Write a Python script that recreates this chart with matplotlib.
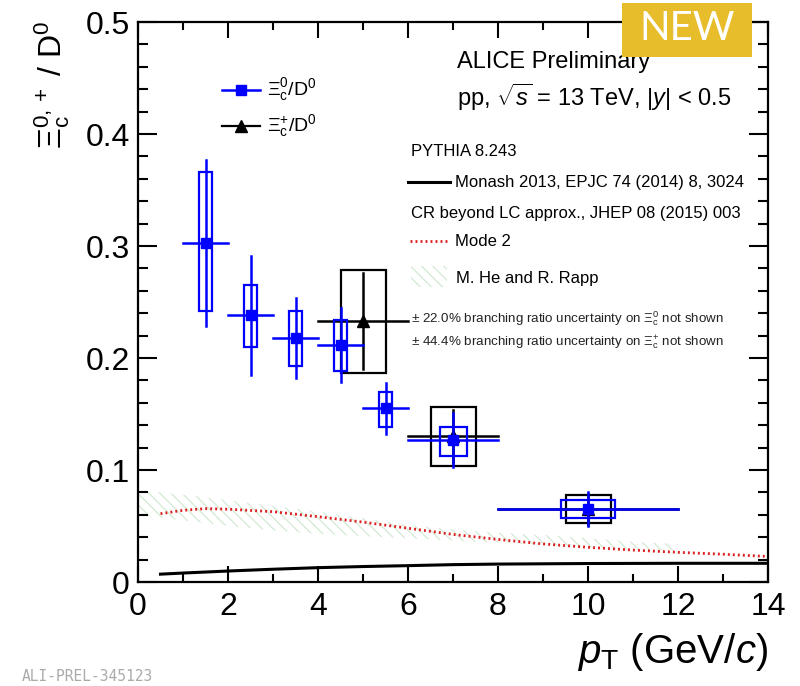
import matplotlib
matplotlib.use("Agg")
import matplotlib.pyplot as plt
from matplotlib.patches import Rectangle
from matplotlib.lines import Line2D
import numpy as np

plt.rcParams['font.family'] = ['Liberation Sans', 'DejaVu Sans']
plt.rcParams['mathtext.fontset'] = 'custom'
plt.rcParams['mathtext.rm'] = 'Liberation Sans'
plt.rcParams['mathtext.it'] = 'Liberation Sans:italic'
plt.rcParams['mathtext.bf'] = 'Liberation Sans:bold'
plt.rcParams['hatch.linewidth'] = 0.9

# ---- Xi_c^0 / D^0 ----
xi0_pt = [1.5, 2.5, 3.5, 4.5, 5.5, 7.0, 10.0]
xi0_lo = [1, 2, 3, 4, 5, 6, 8]
xi0_hi = [2, 3, 4, 5, 6, 8, 12]
xi0_val = [0.303, 0.238, 0.218, 0.212, 0.155, 0.127, 0.065]
xi0_stat = [0.074, 0.053, 0.036, 0.033, 0.023, 0.024, 0.015]
xi0_syst_dn = [0.061, 0.028, 0.025, 0.024, 0.017, 0.0145, 0.008]
xi0_syst_up = [0.063, 0.027, 0.024, 0.022, 0.015, 0.0115, 0.008]

# ---- Xi_c^+ / D^0 ----
xip_pt = [5.0, 7.0, 10.0]
xip_lo = [4, 6, 8]
xip_hi = [6, 8, 12]
xip_val = [0.233, 0.130, 0.065]
xip_stat = [0.043, 0.024, 0.014]
xip_syst = [0.046, 0.026, 0.0125]

# ---- PYTHIA 8 Monash ----
mon_pt = [0.5, 1, 2, 3, 4, 5, 6, 7, 8, 10, 12, 14]
mon_val = [0.007, 0.008, 0.0098, 0.0114, 0.0128, 0.0138, 0.0146, 0.0155,
           0.016, 0.0165, 0.0167, 0.0167]

# ---- PYTHIA 8 CR Mode 2 ----
mode2_pt = [0.5, 1, 1.5, 2, 3, 4, 5, 6, 7, 8, 9, 10, 11, 12, 13, 14]
mode2_val = [0.061, 0.064, 0.0655, 0.065, 0.0628, 0.0583, 0.0535, 0.048,
             0.0425, 0.038, 0.034, 0.031, 0.0285, 0.0265, 0.0248, 0.0228]

# ---- M. He and R. Rapp band ----
hr_pt = [0, 1, 2, 3, 4, 5, 6, 7, 8, 9, 10, 11, 12]
hr_up = [0.082, 0.078, 0.073, 0.068, 0.063, 0.057, 0.051, 0.047, 0.044,
         0.042, 0.039, 0.036, 0.034]
hr_dn = [0.060, 0.055, 0.050, 0.046, 0.043, 0.041, 0.039, 0.037, 0.035,
         0.033, 0.031, 0.029, 0.028]

x_ticks = [0, 2, 4, 6, 8, 10, 12, 14]
y_ticks = [0, 0.1, 0.2, 0.3, 0.4, 0.5]
y_ticklabels = ['0', '0.1', '0.2', '0.3', '0.4', '0.5']

W, H = 800, 686
fig = plt.figure(figsize=(W / 100, H / 100), dpi=100)


def fx(px):
    return px / W


def fy(py):
    return 1 - py / H


ax = fig.add_axes([fx(138), fy(582), fx(768) - fx(138), fy(22) - fy(582)])
ax.set_xlim(0, 14)
ax.set_ylim(0, 0.5)

BLUE = '#0000ff'
RED = '#dd2020'
GREEN = '#d3e9d3'

# theory curves
ax.fill_between(hr_pt, hr_dn, hr_up, facecolor='none', edgecolor=GREEN,
                hatch='\\\\\\', linewidth=0, zorder=1)
ax.plot(mon_pt, mon_val, color='black', lw=2.2, zorder=2)
ax.plot(mode2_pt, mode2_val, color=RED, lw=2.0, ls=(0, (0.7, 1.1)), zorder=2)

# Xi_c^+ (black) drawn first, Xi_c^0 (blue) on top
for pt, lo, hi, v, st, sy in zip(xip_pt, xip_lo, xip_hi, xip_val, xip_stat, xip_syst):
    ax.add_patch(Rectangle((pt - 0.5, v - sy), 1.0, 2 * sy, fill=False,
                           edgecolor='black', lw=1.6, zorder=3))
    ax.plot([lo, hi], [v, v], color='black', lw=1.8, zorder=3)
    ax.plot([pt, pt], [v - st, v + st], color='black', lw=1.8, zorder=3)
ax.plot(xip_pt, xip_val, ls='none', marker='^', ms=9, color='black', zorder=4)

for pt, lo, hi, v, st, dn, up in zip(xi0_pt, xi0_lo, xi0_hi, xi0_val, xi0_stat,
                                     xi0_syst_dn, xi0_syst_up):
    hw = 0.15 * (hi - lo)
    ax.add_patch(Rectangle((pt - hw, v - dn), 2 * hw, dn + up, fill=False,
                           edgecolor=BLUE, lw=1.6, zorder=5))
    ax.plot([lo, hi], [v, v], color=BLUE, lw=1.8, zorder=5)
    ax.plot([pt, pt], [v - st, v + st], color=BLUE, lw=1.8, zorder=5)
ax.plot(xi0_pt, xi0_val, ls='none', marker='s', ms=7, color=BLUE, zorder=6)

# axes style
for s in ax.spines.values():
    s.set_linewidth(1.6)
ax.set_xticks(x_ticks)
ax.set_xticks(np.arange(0, 14.01, 1), minor=True)
ax.set_yticks(y_ticks)
ax.set_yticklabels(y_ticklabels)
ax.set_yticks(np.arange(0, 0.501, 0.02), minor=True)
ax.tick_params(which='both', direction='in', top=True, right=True, width=1.5)
ax.tick_params(axis='y', which='major', length=14, labelsize=23, pad=6)
ax.tick_params(axis='y', which='minor', length=7)
ax.tick_params(axis='x', which='major', length=11.5, labelsize=23, pad=7)
ax.tick_params(axis='x', which='minor', length=6)

# axis titles
fig.text(fx(768), fy(652), r'$p_{\rm T}$ (GeV/$c$)', ha='right', va='center',
         fontsize=29)
fig.text(fx(52), fy(20), r'$\Xi_{\rm c}^{0,+}$ / D$^0$', rotation=90,
         ha='center', va='top', fontsize=23)

# data legend
fig.add_artist(Line2D([fx(222), fx(260)], [fy(90), fy(90)], color=BLUE, lw=1.8,
                      transform=fig.transFigure))
fig.add_artist(Line2D([fx(241)], [fy(90)], color=BLUE, marker='s', ms=7,
                      transform=fig.transFigure))
fig.text(fx(267), fy(90), r'$\Xi_{\rm c}^{0}$/D$^{0}$', ha='left', va='center',
         fontsize=14)
fig.add_artist(Line2D([fx(222), fx(260)], [fy(126), fy(126)], color='black',
                      lw=1.6, transform=fig.transFigure))
fig.add_artist(Line2D([fx(241)], [fy(126)], color='black', marker='^', ms=8,
                      transform=fig.transFigure))
fig.text(fx(267), fy(126), r'$\Xi_{\rm c}^{+}$/D$^{0}$', ha='left', va='center',
         fontsize=14)

# header
fig.text(fx(457), fy(62), 'ALICE Preliminary', ha='left', va='center', fontsize=17)
fig.text(fx(457), fy(97), r'pp, $\sqrt{s}$ = 13 TeV, |$y$| < 0.5', ha='left',
         va='center', fontsize=17)

# model legend
fig.text(fx(411), fy(152), 'PYTHIA 8.243', ha='left', va='center', fontsize=12)
fig.add_artist(Line2D([fx(408), fx(450)], [fy(182), fy(182)], color='black',
                      lw=2.2, transform=fig.transFigure))
fig.text(fx(455), fy(182), 'Monash 2013, EPJC 74 (2014) 8, 3024', ha='left',
         va='center', fontsize=12)
fig.text(fx(411), fy(213), 'CR beyond LC approx., JHEP 08 (2015) 003', ha='left',
         va='center', fontsize=12)
fig.add_artist(Line2D([fx(410), fx(448)], [fy(241), fy(241)], color=RED, lw=2.0,
                      ls=(0, (0.7, 1.1)), transform=fig.transFigure))
fig.text(fx(455), fy(242), 'Mode 2', ha='left', va='center', fontsize=12)
fig.patches.append(Rectangle((fx(411), fy(287)), fx(447) - fx(411),
                             fy(266) - fy(287), facecolor='none', edgecolor=GREEN,
                             hatch='\\\\\\', lw=0, transform=fig.transFigure,
                             figure=fig))
fig.text(fx(456), fy(278), 'M. He and R. Rapp', ha='left', va='center', fontsize=12)

fig.text(fx(411), fy(319),
         r'$\pm$ 22.0% branching ratio uncertainty on $\Xi_{\rm c}^{0}$ not shown',
         ha='left', va='center', fontsize=9.6, color='#222222')
fig.text(fx(411), fy(343),
         r'$\pm$ 44.4% branching ratio uncertainty on $\Xi_{\rm c}^{+}$ not shown',
         ha='left', va='center', fontsize=9.6, color='#222222')

# badge
fig.patches.append(Rectangle((fx(622), fy(57)), fx(752) - fx(622), fy(3) - fy(57),
                             facecolor='#e8bd2c', edgecolor='none',
                             transform=fig.transFigure, figure=fig, zorder=10))
fig.text(fx(687), fy(28), 'NEW', ha='center', va='center', fontsize=29,
         color='white', family=['Lato', 'DejaVu Sans'], zorder=11)

# figure id
fig.text(fx(22), fy(684), 'ALI-PREL-345123', ha='left', va='bottom', fontsize=10.5,
         color='#aaaaaa', family=['DejaVu Sans Mono'])

fig.savefig('out.png', dpi=100)
